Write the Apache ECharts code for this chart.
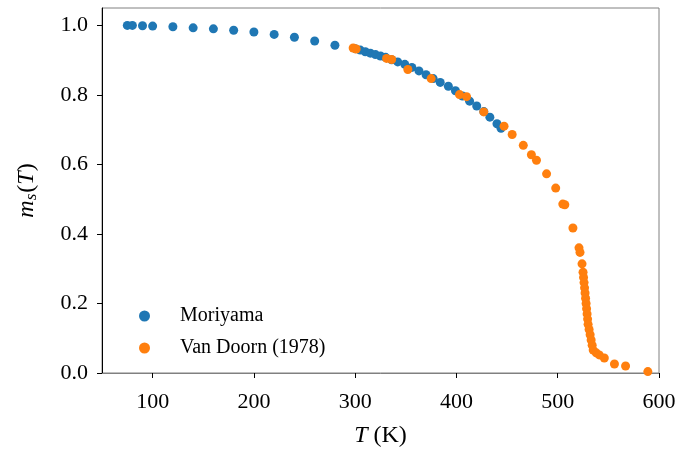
<!DOCTYPE html>
<html>
<head>
<meta charset="utf-8">
<script src="https://cdn.jsdelivr.net/npm/echarts@6/dist/echarts.min.js"></script>
<style>
  html, body { margin: 0; padding: 0; background: #fff; }
  #chart { width: 680px; height: 450px; }
</style>
</head>
<body>
<div id="chart"></div>
<script>
// Spontaneous magnetisation m_s(T) versus temperature
const moriyamaT = [75, 80, 90, 100, 120, 140, 160, 180, 200, 220, 240, 260, 280,
  300, 305, 310, 315, 320, 325, 330, 336, 342, 349, 356, 363, 370, 377, 384, 392,
  399, 406, 413, 420, 427, 433, 440, 444];
const moriyamaM = [1.0, 1.0, 0.999, 0.998, 0.996, 0.993, 0.99, 0.986, 0.981, 0.974,
  0.966, 0.955, 0.943,
  0.933, 0.929, 0.924, 0.920, 0.916, 0.912, 0.908, 0.901, 0.895, 0.888, 0.879,
  0.869, 0.858, 0.847, 0.836, 0.825, 0.812, 0.797, 0.782, 0.768, 0.752, 0.736,
  0.717, 0.704];

const vanDoornT = [298, 301, 331, 336, 352, 375, 403, 410, 427, 447, 455, 466, 474,
  479, 489, 498, 505, 507, 515, 521, 522, 524, 525, 525.5, 526, 526.5, 527, 527.5,
  528, 528.5, 529, 529.5, 530, 531, 532, 533, 534, 535, 538, 541, 546, 556, 567, 589];
const vanDoornM = [0.935, 0.932, 0.905, 0.902, 0.873, 0.847, 0.801, 0.795, 0.751,
  0.710, 0.686, 0.655, 0.628, 0.612, 0.573, 0.532, 0.486, 0.484, 0.417, 0.360,
  0.347, 0.314, 0.29, 0.275, 0.26, 0.245, 0.23, 0.215, 0.2, 0.185, 0.17, 0.155,
  0.14, 0.125, 0.11, 0.095, 0.08, 0.066, 0.058, 0.052, 0.043, 0.026, 0.02, 0.004];

const xTicks = [100, 200, 300, 400, 500, 600];
const yTicks = [0, 0.2, 0.4, 0.6, 0.8, 1.0];

const pairs = (xs, ys) => xs.map((x, i) => [x, ys[i]]);

const serif = '"Liberation Serif", "DejaVu Serif", serif';

const chart = echarts.init(document.getElementById('chart'), null, { renderer: 'canvas' });
chart.setOption({
  animation: false,
  backgroundColor: '#fff',
  textStyle: { fontFamily: serif },
  grid: {
    left: 102, right: 21, top: 8, bottom: 77,
    outerBoundsMode: 'none', containLabel: false,
    show: true, borderColor: '#808080', borderWidth: 1, backgroundColor: 'transparent'
  },
  legend: {
    orient: 'vertical',
    left: 134, top: 301,
    itemWidth: 11, itemHeight: 11, itemGap: 12,
    icon: 'circle',
    textStyle: { fontFamily: serif, fontSize: 20, color: '#000', padding: [0, 0, 0, 25] },
    data: ['Moriyama', 'Van Doorn (1978)']
  },
  xAxis: {
    type: 'value', min: 50, max: 600,
    name: '{i|T}{n| (K)}',
    nameLocation: 'middle', nameGap: 51,
    nameTextStyle: {
      rich: {
        i: { fontFamily: serif, fontStyle: 'italic', fontSize: 24, color: '#000' },
        n: { fontFamily: serif, fontSize: 24, color: '#000' }
      }
    },
    axisLine: { show: true, onZero: false, lineStyle: { color: '#808080', width: 1 } },
    axisTick: { show: true, length: 5, inside: false, customValues: xTicks, lineStyle: { color: '#000', width: 1 } },
    axisLabel: { customValues: xTicks, fontFamily: serif, fontSize: 22, color: '#000', margin: 18 },
    splitLine: { show: false }
  },
  yAxis: {
    type: 'value', min: 0, max: 1.05,
    name: '{i|m}{s|s}{n|(}{i|T}{n|)}',
    nameLocation: 'middle', nameGap: 62, nameRotate: 90,
    nameTextStyle: {
      rich: {
        i: { fontFamily: serif, fontStyle: 'italic', fontSize: 24, color: '#000' },
        s: { fontFamily: serif, fontStyle: 'italic', fontSize: 17, color: '#000', padding: [9, 1, 0, 0] },
        n: { fontFamily: serif, fontSize: 24, color: '#000' }
      }
    },
    axisLine: { show: true, onZero: false, lineStyle: { color: '#000', width: 1 } },
    axisTick: { show: true, length: 5, inside: false, customValues: yTicks, lineStyle: { color: '#000', width: 1 } },
    axisLabel: {
      customValues: yTicks, fontFamily: serif, fontSize: 22, color: '#000', margin: 14,
      formatter: v => v.toFixed(1)
    },
    splitLine: { show: false }
  },
  series: [
    {
      name: 'Moriyama', type: 'scatter', symbol: 'circle', symbolSize: 9,
      itemStyle: { color: '#1f77b4', opacity: 1 },
      data: pairs(moriyamaT, moriyamaM), z: 2
    },
    {
      name: 'Van Doorn (1978)', type: 'scatter', symbol: 'circle', symbolSize: 9,
      itemStyle: { color: '#ff7f0e', opacity: 1 },
      data: pairs(vanDoornT, vanDoornM), z: 3
    }
  ]
});
</script>
</body>
</html>
